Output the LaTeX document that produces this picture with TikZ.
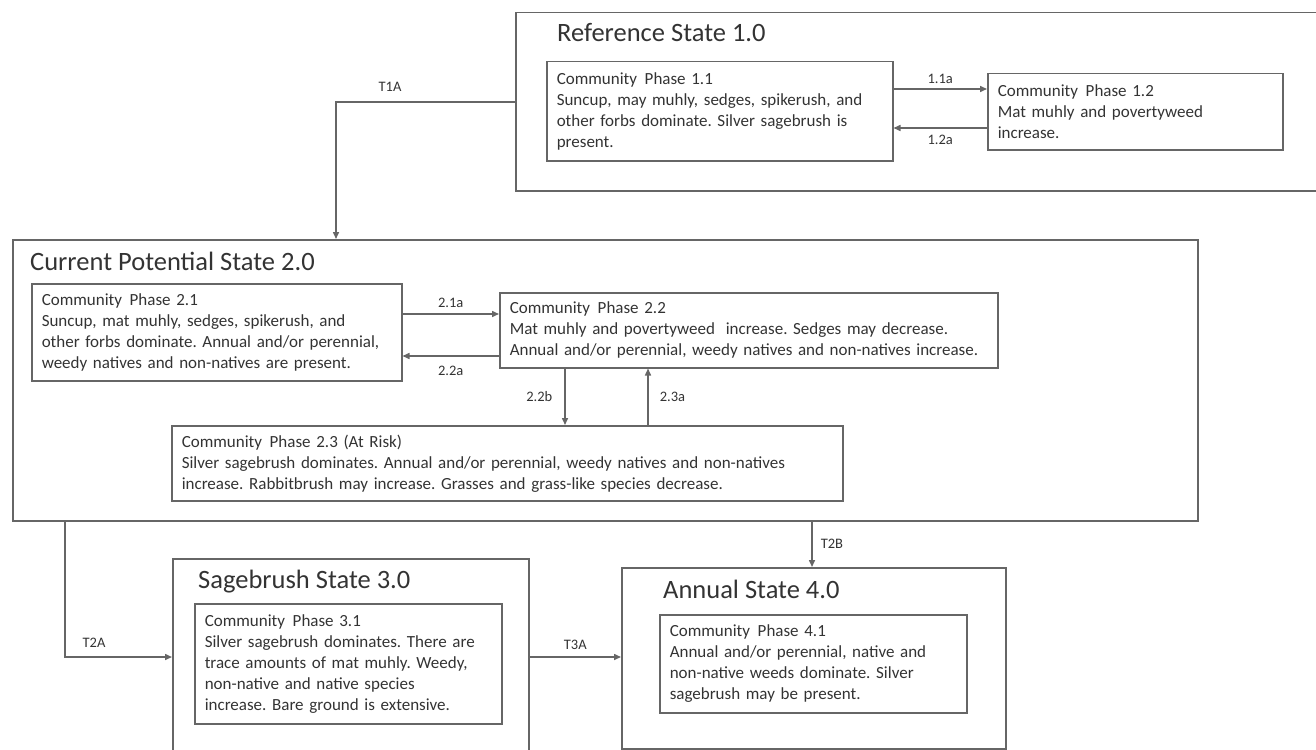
\documentclass[tikz,border=0pt]{standalone}
\usepackage{fontspec}
\setmainfont{Carlito}
\usetikzlibrary{arrows.meta,positioning}

\frenchspacing
\hyphenpenalty=10000
\exhyphenpenalty=10000
\newcommand{\cphase}[1]{Community\hspace{0.45em}Phase #1}

\tikzset{
  line/.style={draw=black!60, line width=1.5pt},
  arr/.style={line, -{Triangle[length=7pt,width=6pt]}},
  statebox/.style={line, anchor=north west, inner sep=0pt},
  phasebox/.style={line, anchor=north west, align=left, inner xsep=10pt,
    inner ysep=0pt, text=black!80, font=\fontsize{17}{21}\selectfont},
  title/.style={anchor=base west, inner sep=0pt, text=black!80,
    font=\fontsize{26.5}{30}\selectfont},
  lbl/.style={inner sep=0pt, text=black!80, font=\fontsize{14.5}{16}\selectfont},
}

\begin{document}
\begin{tikzpicture}[x=1pt,y=-1pt]
  \useasboundingbox (0,0) rectangle (1316,749);

  % States
  \node[statebox, minimum width=815pt, minimum height=178pt] (refst) at (515,12) {};
  \node[statebox, minimum width=1185pt, minimum height=281pt] (curst) at (12,239) {};
  \node[statebox, minimum width=356pt, minimum height=215pt] (sagest) at (172,558) {};
  \node[statebox, minimum width=384pt, minimum height=181pt] (annst) at (621,567) {};

  \node[title] (reftitle) at (557,42) {Reference State 1.0};
  \node[title] (curtitle) at (30,270) {Current Potential State 2.0};
  \node[title] (sagetitle) at (198,588) {Sagebrush State 3.0};
  \node[title] (anntitle) at (663,598) {Annual State 4.0};

  % Community phases
  \node[phasebox, text width=326pt, minimum height=99pt] (p11) at (546,61)
    {\cphase{1.1}\\Suncup, may muhly, sedges, spikerush, and\\other forbs dominate. Silver sagebrush is\\present.};
  \node[phasebox, text width=275pt, minimum height=76pt] (p12) at (987,73)
    {\cphase{1.2}\\Mat muhly and povertyweed\\increase.};
  \node[phasebox, text width=350pt, minimum height=97pt] (p21) at (31,283)
    {\cphase{2.1}\\Suncup, mat muhly, sedges, spikerush, and\\other forbs dominate. Annual and/or perennial,\\weedy natives and non-natives are present.};
  \node[phasebox, text width=478pt, minimum height=75pt] (p22) at (499,292)
    {\cphase{2.2}\\Mat muhly and povertyweed\hspace{0.3em} increase. Sedges may decrease.\\Annual and/or perennial, weedy natives and non-natives increase.};
  \node[phasebox, text width=651pt, minimum height=75pt] (p23) at (171,425)
    {\cphase{2.3 (At Risk)}\\Silver sagebrush dominates. Annual and/or perennial, weedy natives and non-natives\\increase. Rabbitbrush may increase. Grasses and grass-like species decrease.};
  \node[phasebox, text width=287pt, minimum height=120pt] (p31) at (194,603)
    {\cphase{3.1}\\Silver sagebrush dominates. There are\\trace amounts of mat muhly. Weedy,\\non-native and native species\\increase. Bare ground is extensive.};
  \node[phasebox, text width=287pt, minimum height=98pt] (p41) at (659,614)
    {\cphase{4.1}\\Annual and/or perennial, native and\\non-native weeds dominate. Silver\\sagebrush may be present.};

  % Pathways inside states
  \coordinate (c11a) at (0,89);
  \coordinate (c12a) at (0,128);
  \draw[arr] (p11.east |- c11a) -- (p12.west |- c11a) node[lbl, midway, above=5pt] (l11a) {1.1a};
  \draw[arr] (p12.west |- c12a) -- (p11.east |- c12a) node[lbl, midway, below=6pt] (l12a) {1.2a};

  \coordinate (c21a) at (0,314);
  \coordinate (c22a) at (0,356);
  \draw[arr] (p21.east |- c21a) -- (p22.west |- c21a) node[lbl, midway, above=6pt] (l21a) {2.1a};
  \draw[arr] (p22.west |- c22a) -- (p21.east |- c22a) node[lbl, midway, below=9pt] (l22a) {2.2a};

  \coordinate (c22b) at (565,0);
  \coordinate (c23a) at (648,0);
  \draw[arr] (p22.south -| c22b) -- (p23.north -| c22b) node[lbl, midway, left=12pt] (l22b) {2.2b};
  \draw[arr] (p23.north -| c23a) -- (p22.south -| c23a) node[lbl, midway, right=11pt] (l23a) {2.3a};

  % Transitions
  \coordinate (t1a) at (336,102);
  \draw[arr] (refst.west |- t1a) -- (t1a) -- (t1a |- curst.north);
  \node[lbl] (lt1a) at (390,87) {T1A};

  \coordinate (t2a) at (65,657);
  \draw[arr] (t2a |- curst.south) -- (t2a) -- (t2a -| sagest.west);
  \node[lbl] (lt2a) at (94,643) {T2A};

  \draw[arr] (sagest.east |- t2a) -- (annst.west |- t2a) node[lbl, midway, above=7pt] (lt3a) {T3A};

  \coordinate (t2b) at (812,0);
  \draw[arr] (curst.south -| t2b) -- (annst.north -| t2b) node[lbl, midway, right=8pt] (lt2b) {T2B};
\end{tikzpicture}
\end{document}
